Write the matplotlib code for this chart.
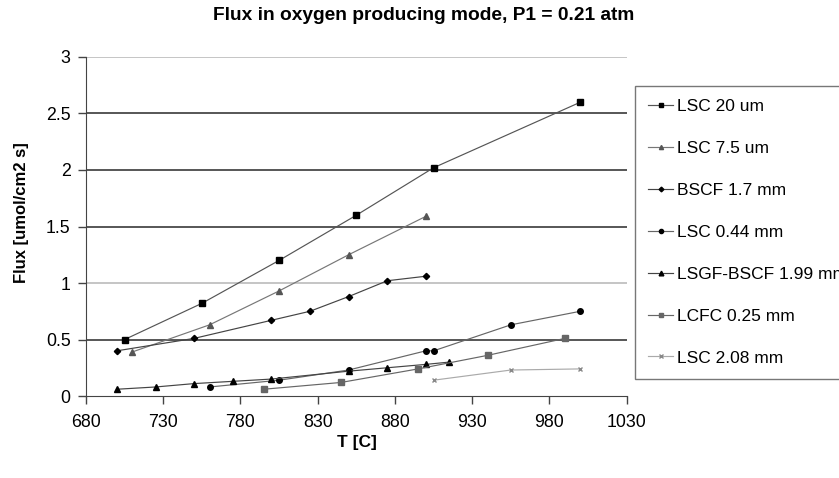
import matplotlib
matplotlib.use("Agg")
import matplotlib.pyplot as plt

plt.rcParams['font.family'] = ['Liberation Sans', 'DejaVu Sans']

# Data
labels = ["LSC 20 um", "LSC 7.5 um", "BSCF 1.7 mm", "LSC 0.44 mm",
          "LSGF-BSCF 1.99 mm", "LCFC 0.25 mm", "LSC 2.08 mm"]

t_lsc20 = [705, 755, 805, 855, 905, 1000]
f_lsc20 = [0.50, 0.82, 1.20, 1.60, 2.02, 2.60]

t_lsc75 = [710, 760, 805, 850, 900]
f_lsc75 = [0.39, 0.63, 0.93, 1.25, 1.59]

t_bscf = [700, 750, 800, 825, 850, 875, 900]
f_bscf = [0.40, 0.51, 0.67, 0.75, 0.88, 1.02, 1.06]

t_lsc044 = [760, 805, 850, 900, 905, 955, 1000]
f_lsc044 = [0.08, 0.14, 0.23, 0.40, 0.40, 0.63, 0.75]

t_lsgf = [700, 725, 750, 775, 800, 850, 875, 900, 915]
f_lsgf = [0.06, 0.08, 0.11, 0.13, 0.15, 0.22, 0.25, 0.28, 0.30]

t_lcfc = [795, 845, 895, 940, 990]
f_lcfc = [0.06, 0.12, 0.24, 0.36, 0.51]

t_lsc208 = [905, 955, 1000]
f_lsc208 = [0.14, 0.23, 0.24]

x_ticks = [680, 730, 780, 830, 880, 930, 980, 1030]
y_ticks = [0, 0.5, 1, 1.5, 2, 2.5, 3]
y_tick_labels = ["0", "0.5", "1", "1.5", "2", "2.5", "3"]

fig = plt.figure(figsize=(8.39, 4.78), dpi=100)
ax = fig.add_axes([0.1025, 0.1715, 0.6445, 0.7093])

# gridlines
grid_colors = {0.5: "#3a3a3a", 1: "#bbbbbb", 1.5: "#3a3a3a", 2: "#3a3a3a", 2.5: "#3a3a3a", 3: "#bbbbbb"}
for yv, c in grid_colors.items():
    ax.axhline(yv, color=c, lw=1.2, zorder=1)

series = [
    (t_lsc20, f_lsc20, dict(color="#555555", marker="s", ms=4, mfc="black", mec="black")),
    (t_lsc75, f_lsc75, dict(color="#777777", marker="^", ms=4, mfc="#555555", mec="#555555")),
    (t_bscf, f_bscf, dict(color="#444444", marker="D", ms=3.2, mfc="black", mec="black")),
    (t_lsc044, f_lsc044, dict(color="#666666", marker="o", ms=4, mfc="black", mec="black")),
    (t_lsgf, f_lsgf, dict(color="#444444", marker="^", ms=4.5, mfc="black", mec="black")),
    (t_lcfc, f_lcfc, dict(color="#666666", marker="s", ms=4, mfc="#666666", mec="#666666")),
    (t_lsc208, f_lsc208, dict(color="#aaaaaa", marker="x", ms=3.5, mfc="#888888", mec="#888888", mew=1)),
]
handles = []
for (t, f, st), lab in zip(series, labels):
    h, = ax.plot(t, f, lw=0.85, label=lab, zorder=3, **st)
    handles.append(h)

ax.set_xlim(680, 1030)
ax.set_ylim(0, 3)
ax.set_xticks(x_ticks)
ax.set_yticks(y_ticks)
ax.set_yticklabels(y_tick_labels)
ax.tick_params(axis='both', labelsize=12.8, length=6, direction='out', color="#444444", width=1, pad=5)
ax.tick_params(axis='x', pad=7)
ax.spines['top'].set_visible(False)
ax.spines['right'].set_visible(False)
ax.spines['left'].set_color("#444444")
ax.spines['bottom'].set_color("#444444")

fig.text(356.5/839, 1 - 442/478, "T [C]", ha='center', va='center', fontsize=12.5, fontweight='bold')
fig.text(22/839, 1 - 213/478, "Flux [umol/cm2 s]", ha='center', va='center', rotation=90,
         fontsize=12, fontweight='bold')
fig.text(424/839, 1 - 16/478, "Flux in oxygen producing mode, P1 = 0.21 atm", ha='center', va='center',
         fontsize=13.8, fontweight='bold')

leg = fig.legend(handles=handles, loc='upper left', bbox_to_anchor=(635/839, 1 - 86/478), fontsize=12.5,
                 frameon=True, fancybox=False, edgecolor="#555555", labelspacing=1.54,
                 handlelength=1.45, handletextpad=0.2, borderpad=0.75, borderaxespad=0, markerscale=0.75)
leg.get_frame().set_linewidth(1)

fig.savefig("out.png", dpi=100)
